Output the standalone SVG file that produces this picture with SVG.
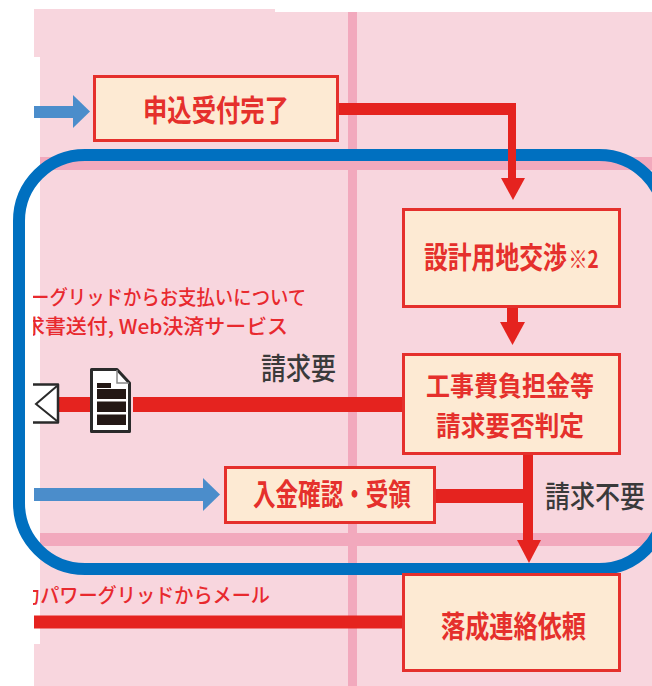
<svg xmlns="http://www.w3.org/2000/svg" width="652" height="686" viewBox="0 0 652 686">
<defs>
<style>
.bg{fill:#f8d6de}
.band{fill:#f2a9bd}
.box{fill:#fdead3;stroke:#e5302c;stroke-width:3}
.bt{font-family:"Noto Sans CJK JP","Noto Sans",sans-serif;font-size:30px;font-weight:700;fill:#e5302c}
.gt{font-family:"Noto Sans CJK JP","Noto Sans",sans-serif;font-size:30px;font-weight:500;fill:#3a3a3a}
.rt{font-family:"Noto Sans CJK JP","Noto Sans",sans-serif;font-size:20px;font-weight:500;fill:#e8292e}
.red{fill:#e5231f}
.blue{fill:#4b8dcb}
.frame{fill:none;stroke:#0070c0;stroke-width:12}
.ink{fill:#fff;stroke:#2a2a2a;stroke-width:2.5;stroke-linejoin:round}
</style>
<clipPath id="lc"><rect x="33" y="0" width="619" height="686"/></clipPath>
</defs>
<rect x="0" y="0" width="652" height="686" fill="#fff"/>
<path class="bg" d="M34,9 H275 V12 H652 V686 H34 V644 H40 V57 H34 Z"/>
<rect class="band" x="40" y="157" width="612" height="13"/>
<rect class="band" x="40" y="533" width="612" height="13"/>
<rect class="band" x="348" y="12" width="9" height="674"/>

<rect class="frame" x="19" y="155" width="646" height="414" rx="66" ry="66"/>

<g id="connectors">
<g clip-path="url(#lc)">
<rect class="blue" x="34" y="106" width="40" height="12"/>
<polygon class="blue" points="73,95 90,111.5 73,128"/>
<rect class="blue" x="34" y="488" width="170" height="13"/>
<polygon class="blue" points="203,478 220,494.5 203,511"/>
<rect class="red" x="58" y="397" width="33" height="15"/>
<rect class="red" x="34" y="615.5" width="368" height="13"/>
</g>
<rect class="red" x="133" y="397" width="269" height="15"/>
<rect class="red" x="339" y="103" width="177" height="12"/>
<rect class="red" x="508" y="103" width="8" height="77"/>
<polygon class="red" points="501,178 525,178 513,200"/>
<rect class="red" x="507" y="306" width="11" height="18"/>
<polygon class="red" points="500,322 525,322 512.5,345"/>
<rect class="red" x="523" y="454" width="10" height="88"/>
<rect class="red" x="435" y="489" width="98" height="14"/>
<polygon class="red" points="517,540 541,540 529,563"/>
</g>

<g id="n1">
<rect class="box" x="94.5" y="76.5" width="243" height="64"/>
<text class="bt" transform="translate(143,121) scale(0.811,1)">申込受付完了</text>
</g>
<g id="n2">
<rect class="box" x="403.5" y="209.5" width="216" height="97"/>
<text class="bt" transform="translate(424,268) scale(0.794,1)">設計用地交渉<tspan dx="2" style="font-size:24px">※2</tspan></text>
</g>
<g id="n3">
<rect class="box" x="403.5" y="354.5" width="216" height="99"/>
<text class="bt" style="font-size:27px" transform="translate(426,396) scale(0.889,1)">工事費負担金等</text>
<text class="bt" style="font-size:27px" transform="translate(436,435.5) scale(0.914,1)">請求要否判定</text>
</g>
<g id="n4">
<rect class="box" x="225.5" y="467.5" width="209" height="55"/>
<text class="bt" transform="translate(253,505) scale(0.752,1)">入金確認・受領</text>
</g>
<g id="n5">
<rect class="box" x="403.5" y="574.5" width="216" height="96"/>
<text class="bt" transform="translate(441,637) scale(0.806,1)">落成連絡依頼</text>
</g>

<g id="labels">
<text class="gt" transform="translate(261,379) scale(0.833,1)">請求要</text>
<text class="gt" transform="translate(545,507) scale(0.833,1)">請求不要</text>
<g clip-path="url(#lc)">
<text class="rt" transform="translate(31,305) scale(0.92,1)">ーグリッドからお支払いについて</text>
<text class="rt" x="24" y="334" textLength="264" lengthAdjust="spacingAndGlyphs">求書送付, Web決済サービス</text>
<text class="rt" transform="translate(21,603) scale(0.958,1)">力パワーグリッドからメール</text>
</g>
</g>

<g id="icons">
<g clip-path="url(#lc)">
<rect class="ink" x="10" y="384.5" width="48" height="38"/>
<polyline points="57,386 36,404 57,421" fill="none" stroke="#2a2a2a" stroke-width="2"/>
</g>
<path class="ink" d="M91.5,369.5 H117 L129.5,383 V431.5 H91.5 Z" style="stroke-width:3"/>
<path d="M117,370 V383 H129" fill="none" stroke="#888" stroke-width="1.5"/>
<rect x="97" y="383" width="14" height="5" fill="#231815"/>
<rect x="97" y="389" width="29" height="10" fill="#231815"/>
<rect x="97" y="401.5" width="29" height="10.5" fill="#231815"/>
<rect x="97" y="414.5" width="29" height="10.5" fill="#231815"/>
</g>
</svg>
